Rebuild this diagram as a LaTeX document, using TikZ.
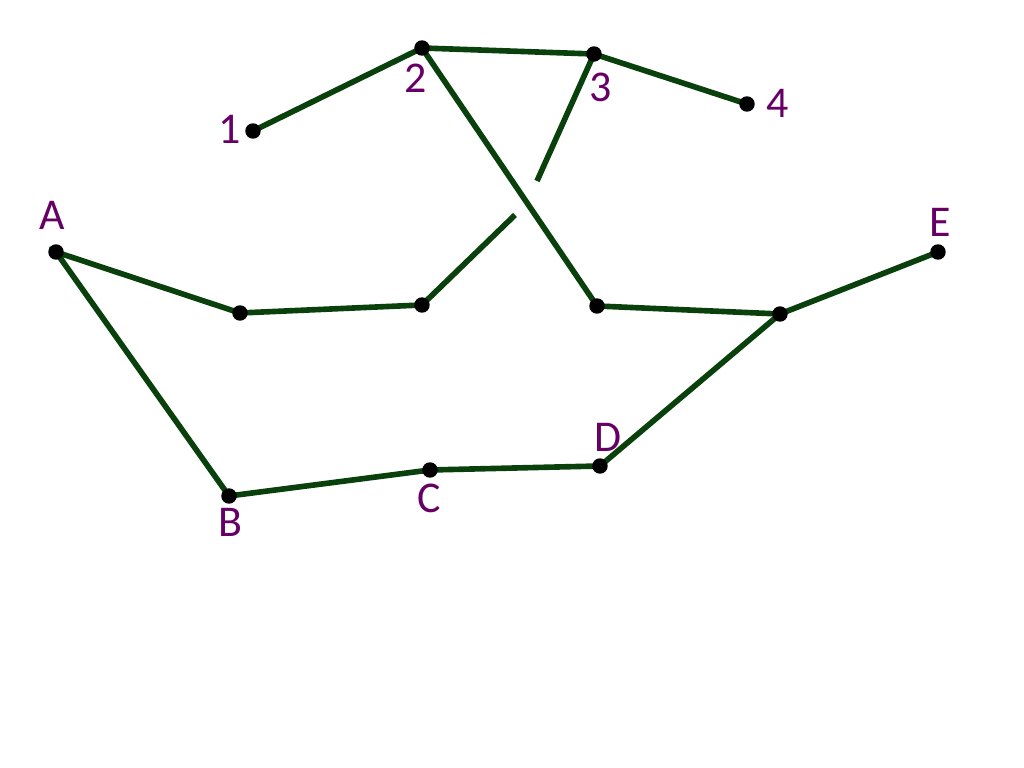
\documentclass[tikz,border=0pt]{standalone}
\usepackage{fontspec}
\setmainfont{Carlito}
\definecolor{wirecol}{RGB}{10,64,12}
\definecolor{lblcol}{RGB}{102,0,102}
\tikzset{
  wire/.style={draw=wirecol, line width=1.6pt},
  dot/.style={circle, fill=black, inner sep=0pt, minimum size=4.4pt},
  lbl/.style={text=lblcol, font=\fontsize{12.5}{14}\selectfont}
}
\begin{document}
\begin{tikzpicture}
\useasboundingbox (0,0) rectangle (10.24,7.68);
% points
\coordinate (p1) at (2.53,6.37); \coordinate (p2) at (4.22,7.20);
\coordinate (p3) at (5.94,7.14); \coordinate (p4) at (7.47,6.64);
\coordinate (A) at (0.56,5.16); \coordinate (a1) at (2.40,4.55);
\coordinate (a2) at (4.22,4.63); \coordinate (g2) at (5.15,5.53);
\coordinate (g1) at (5.37,5.87); \coordinate (b1) at (5.97,4.62);
\coordinate (e1) at (7.80,4.54); \coordinate (E) at (9.38,5.16);
\coordinate (D) at (6.00,3.02); \coordinate (C) at (4.30,2.98);
\coordinate (B) at (2.29,2.72);
% lines
\draw[wire] (p1)--(p2)--(p3)--(p4);
\draw[wire] (p2)--(b1)--(e1)--(E);
\draw[wire] (p3)--(g1);
\draw[wire] (g2)--(a2)--(a1)--(A)--(B)--(C)--(D)--(e1);
\foreach \p in {p1,p2,p3,p4,A,a1,a2,b1,e1,E,D,C,B}
  \node[dot] (d\p) at (\p) {};
% labels
\node[lbl] (l1) at (2.30,6.39) {1};
\node[lbl] (l2) at (4.16,6.90) {2};
\node[lbl] (l3) at (6.01,6.81) {3};
\node[lbl] (l4) at (7.78,6.65) {4};
\node[lbl] (lA) at (0.52,5.53) {A};
\node[lbl] (lB) at (2.30,2.46) {B};
\node[lbl] (lC) at (4.29,2.70) {C};
\node[lbl] (lD) at (6.08,3.31) {D};
\node[lbl] (lE) at (9.40,5.46) {E};
\end{tikzpicture}
\end{document}
